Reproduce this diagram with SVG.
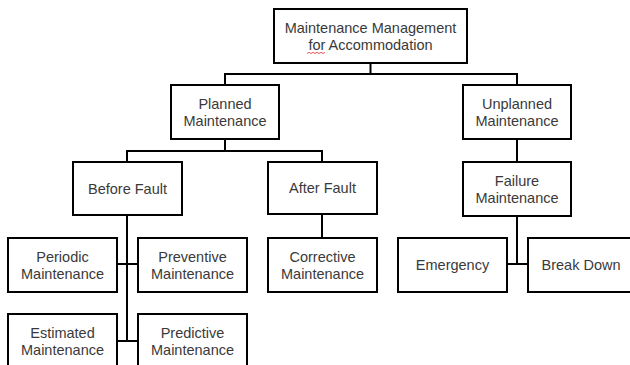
<svg xmlns="http://www.w3.org/2000/svg" width="630" height="365" viewBox="0 0 630 365">
<style>
rect.n{fill:#fff;stroke:#000;stroke-width:2}
text{font-family:"Liberation Sans",Arial,sans-serif;font-size:14.5px;fill:#3a3a3a;text-anchor:middle}
.c{fill:none;stroke:#000;stroke-width:2}
</style>
<rect width="630" height="365" fill="#fff"/>
<g id="connectors">
<path class="c" d="M370.5 63V74M225 85V74H517V85"/>
<path class="c" d="M225 139V151M127 162V151H322V162"/>
<path class="c" d="M517 139V162"/>
<path class="c" d="M127 215V341M117 264H138M117 341H138"/>
<path class="c" d="M322 214V238"/>
<path class="c" d="M517 216V264M507 264H528"/>
</g>
<g id="top"><rect class="n" x="274" y="9" width="193" height="54"/><text x="370.5" y="32.5">Maintenance Management</text><text x="370.5" y="49.5">for Accommodation</text><path d="M307 53.5l2 -1.2l2 1.2l2 -1.2l2 1.2l2 -1.2l2 1.2l2 -1.2l2 1.2l2 -1.2" fill="none" stroke="#e03030" stroke-width="0.8"/></g>
<g id="planned"><rect class="n" x="171" y="85" width="108" height="54"/><text x="225" y="108.5">Planned</text><text x="225" y="125.5">Maintenance</text></g>
<g id="unplanned"><rect class="n" x="463" y="85" width="108" height="54"/><text x="517" y="108.5">Unplanned</text><text x="517" y="125.5">Maintenance</text></g>
<g id="before"><rect class="n" x="73" y="162" width="109" height="53"/><text x="127.5" y="193.5">Before Fault</text></g>
<g id="after"><rect class="n" x="268" y="162" width="109" height="52"/><text x="322.5" y="193">After Fault</text></g>
<g id="failure"><rect class="n" x="463" y="162" width="108" height="54"/><text x="517" y="185.5">Failure</text><text x="517" y="202.5">Maintenance</text></g>
<g id="periodic"><rect class="n" x="8" y="238" width="109" height="54"/><text x="62.5" y="261.5">Periodic</text><text x="62.5" y="278.5">Maintenance</text></g>
<g id="preventive"><rect class="n" x="138" y="238" width="109" height="54"/><text x="192.5" y="261.5">Preventive</text><text x="192.5" y="278.5">Maintenance</text></g>
<g id="corrective"><rect class="n" x="268" y="238" width="109" height="54"/><text x="322.5" y="261.5">Corrective</text><text x="322.5" y="278.5">Maintenance</text></g>
<g id="emergency"><rect class="n" x="398" y="238" width="109" height="54"/><text x="452.5" y="270">Emergency</text></g>
<g id="breakdown"><rect class="n" x="528" y="238" width="112" height="54"/><text x="581" y="270">Break Down</text></g>
<g id="estimated"><rect class="n" x="8" y="314" width="109" height="56"/><text x="62.5" y="337.5">Estimated</text><text x="62.5" y="354.5">Maintenance</text></g>
<g id="predictive"><rect class="n" x="138" y="314" width="109" height="56"/><text x="192.5" y="337.5">Predictive</text><text x="192.5" y="354.5">Maintenance</text></g>
</svg>
